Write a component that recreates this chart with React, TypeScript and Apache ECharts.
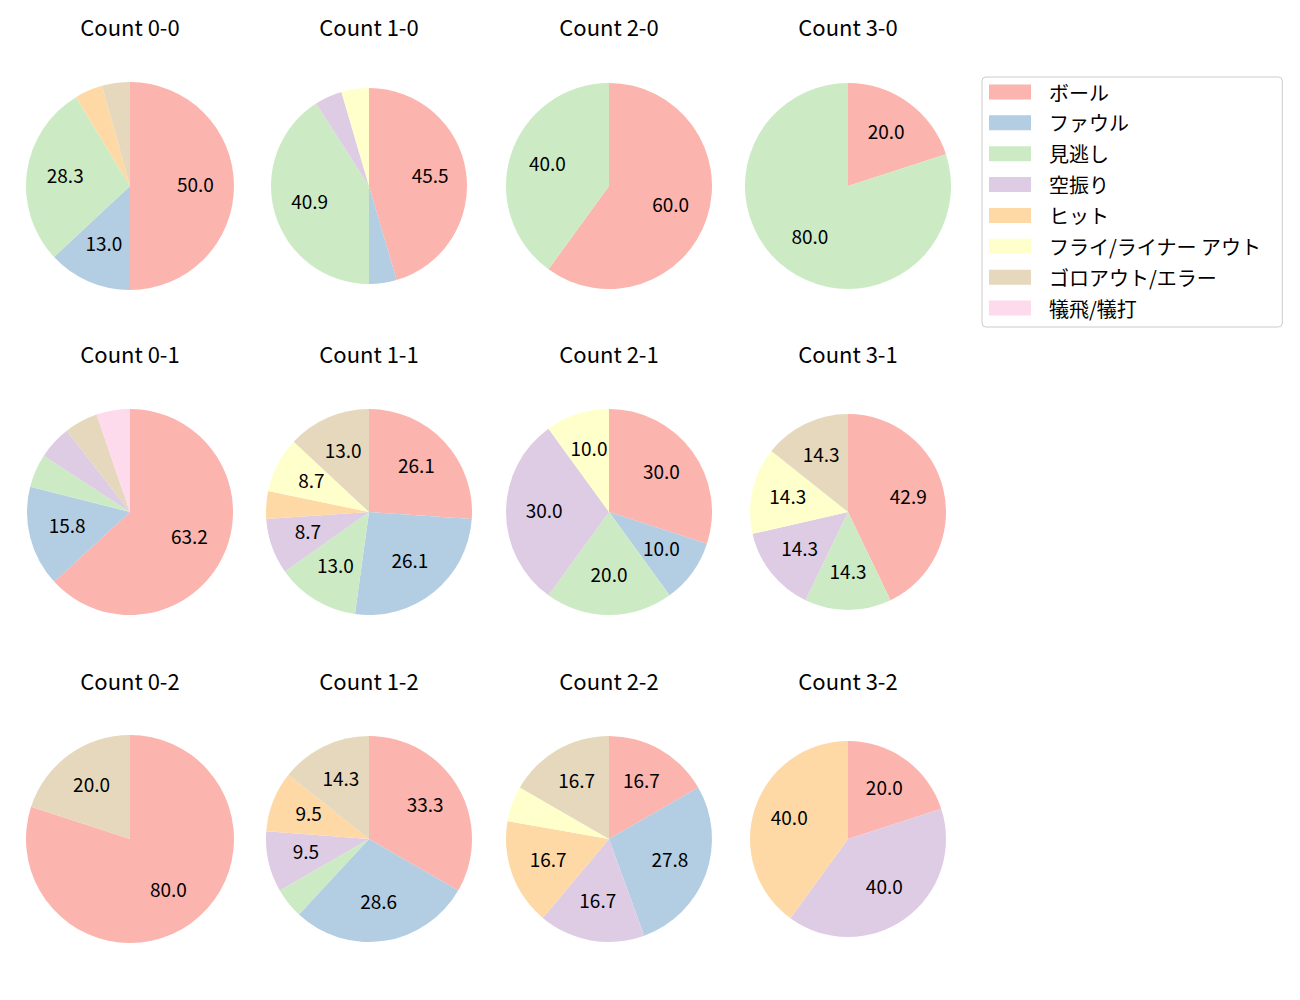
import React, { useEffect, useRef } from "react";
import * as echarts from "echarts";

const CATEGORIES = [
  "ボール",
  "ファウル",
  "見逃し",
  "空振り",
  "ヒット",
  "フライ/ライナー アウト",
  "ゴロアウト/エラー",
  "犠飛/犠打",
];
const COLORS = ["#fbb4ae", "#b3cde3", "#ccebc5", "#decbe4", "#fed9a6", "#ffffcc", "#e5d8bd", "#fddaec"];

const TITLES = [
  "Count 0-0", "Count 1-0", "Count 2-0", "Count 3-0",
  "Count 0-1", "Count 1-1", "Count 2-1", "Count 3-1",
  "Count 0-2", "Count 1-2", "Count 2-2", "Count 3-2",
];

// counts per category (same order as CATEGORIES)
const C00 = [23, 6, 13, 0, 2, 0, 2, 0];
const C10 = [10, 1, 9, 1, 0, 1, 0, 0];
const C20 = [3, 0, 2, 0, 0, 0, 0, 0];
const C30 = [1, 0, 4, 0, 0, 0, 0, 0];
const C01 = [12, 3, 1, 1, 0, 0, 1, 1];
const C11 = [6, 6, 3, 2, 1, 2, 3, 0];
const C21 = [3, 1, 2, 3, 0, 1, 0, 0];
const C31 = [3, 0, 1, 1, 0, 1, 1, 0];
const C02 = [4, 0, 0, 0, 0, 0, 1, 0];
const C12 = [7, 6, 1, 2, 2, 0, 3, 0];
const C22 = [3, 5, 0, 3, 3, 1, 3, 0];
const C32 = [1, 0, 0, 2, 2, 0, 0, 0];
const PIES = [C00, C10, C20, C30, C01, C11, C21, C31, C02, C12, C22, C32];

// layout (styles)
const COL_X = [130, 369, 609, 848];
const ROW_Y = [186, 512, 839];
const TITLE_Y = [15, 342, 669];
const LABEL_SHIFT = 3;
const RADII = [104, 98, 103, 103, 103, 103, 103, 98, 104, 103, 103, 98];
const FONT = "'Noto Sans CJK JP', 'Noto Sans', sans-serif";

export default function App() {
  const ref = useRef<HTMLDivElement>(null);
  useEffect(() => {
    document.body.style.margin = "0";
    const chart = echarts.init(ref.current!, null, { renderer: "svg" });
    const pieSeries: any[] = [];
    const labelSeries: any[] = [];
    const titles: any[] = [];
    PIES.forEach((counts, i) => {
      const col = i % 4;
      const row = Math.floor(i / 4);
      const cx = COL_X[col];
      const cy = ROW_Y[row];
      const r = RADII[i];
      const total = counts.reduce((a, b) => a + b, 0);
      const data = counts
        .map((v, k) => ({ v, k }))
        .filter((d) => d.v > 0)
        .map((d) => ({ name: CATEGORIES[d.k], value: d.v, itemStyle: { color: COLORS[d.k] } }));
      titles.push({
        text: TITLES[i],
        left: cx,
        top: TITLE_Y[row],
        textAlign: "center",
        padding: 0,
        textStyle: { fontFamily: FONT, fontSize: 22, fontWeight: "normal", color: "#000" },
      });
      pieSeries.push({
        type: "pie",
        center: [cx, cy],
        radius: [0, r],
        startAngle: 90,
        clockwise: true,
        avoidLabelOverlap: false,
        silent: true,
        label: { show: false },
        labelLine: { show: false },
        emphasis: { disabled: true },
        itemStyle: { borderWidth: 0 },
        data,
      });
      labelSeries.push({
        type: "pie",
        center: [cx, cy - LABEL_SHIFT],
        radius: [0.2 * r, r],
        startAngle: 90,
        clockwise: true,
        avoidLabelOverlap: false,
        silent: true,
        emphasis: { disabled: true },
        labelLine: { show: false },
        label: {
          show: true,
          position: "inside",
          rotate: 0,
          fontFamily: FONT,
          fontSize: 19,
          color: "#000",
          formatter: (p: any) => {
            const pct = (p.value / total) * 100;
            return pct >= 7 ? pct.toFixed(1) : "";
          },
        },
        itemStyle: { color: "rgba(0,0,0,0)", borderWidth: 0 },
        data: data.map((d) => ({ name: d.name, value: d.value, itemStyle: { color: "rgba(0,0,0,0)" } })),
      });
    });
    chart.setOption({
      animation: false,
      title: titles,
      legend: {
        orient: "vertical",
        left: 982,
        top: 77,
        data: CATEGORIES,
        icon: "rect",
        itemWidth: 42,
        itemHeight: 15,
        itemGap: 10.86,
        padding: [5, 21, 9, 7],
        borderColor: "#cccccc",
        borderWidth: 1,
        borderRadius: 4,
        selectedMode: false,
        textStyle: {
          fontFamily: FONT,
          fontSize: 20,
          color: "#000",
          lineHeight: 20,
          padding: [0, 0, 0, 13],
        },
      },
      series: [...pieSeries, ...labelSeries],
    });
    return () => chart.dispose();
  }, []);
  return <div ref={ref} style={{ width: 1300, height: 1000 }} />;
}
